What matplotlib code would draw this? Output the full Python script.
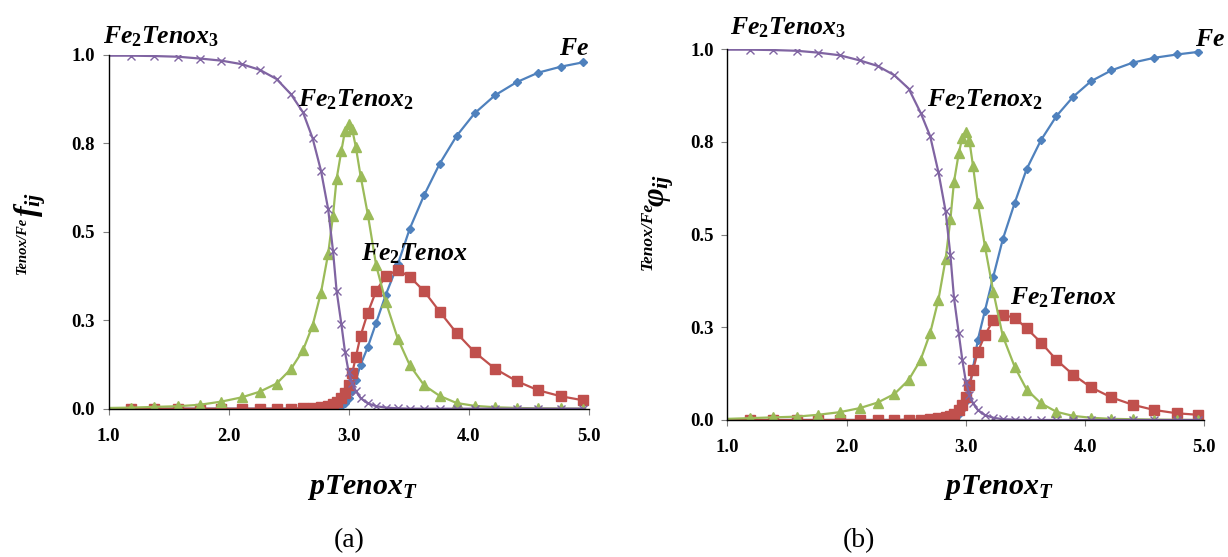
import numpy as np
import matplotlib
matplotlib.use('Agg')
import matplotlib.pyplot as plt

plt.rcParams['font.family'] = ['Liberation Serif', 'DejaVu Serif']
plt.rcParams['mathtext.fontset'] = 'custom'
plt.rcParams['mathtext.it'] = 'Liberation Serif:italic:bold'
plt.rcParams['mathtext.rm'] = 'Liberation Serif:bold'
plt.rcParams['mathtext.bf'] = 'Liberation Serif:italic:bold'

# pTenox_T values (same for both panels)
ptenox = [1.00, 1.19, 1.38, 1.58, 1.76, 1.94, 2.11, 2.26, 2.40, 2.52,
          2.62, 2.70, 2.77, 2.83, 2.87, 2.90, 2.94, 2.97, 3.00, 3.03,
          3.06, 3.10, 3.16, 3.23, 3.31, 3.41, 3.51, 3.63, 3.76, 3.90,
          4.05, 4.22, 4.40, 4.58, 4.77, 4.95]

# (a) fraction f_ij
a_fe = [0, 0, 0, 0, 0, 0, 0, 0, 0, 0,
        0, 0, 0, 0, 0.001, 0.003, 0.008, 0.016, 0.030, 0.050,
        0.080, 0.124, 0.174, 0.243, 0.322, 0.408, 0.509, 0.604, 0.693, 0.771,
        0.835, 0.886, 0.923, 0.950, 0.967, 0.979]
a_fe2tenox = [0, 0, 0, 0, 0, 0, 0, 0, 0, 0,
              0.001, 0.002, 0.004, 0.008, 0.013, 0.020, 0.030, 0.045, 0.067, 0.100,
              0.145, 0.206, 0.271, 0.333, 0.375, 0.392, 0.373, 0.332, 0.274, 0.214,
              0.160, 0.113, 0.078, 0.052, 0.035, 0.024]
a_fe2tenox2 = [0.002, 0.003, 0.005, 0.007, 0.011, 0.020, 0.032, 0.048, 0.071, 0.112,
               0.165, 0.235, 0.328, 0.438, 0.545, 0.649, 0.729, 0.785, 0.805, 0.790,
               0.741, 0.658, 0.550, 0.405, 0.302, 0.198, 0.123, 0.066, 0.036, 0.016,
               0.008, 0.004, 0.002, 0.001, 0.0005, 0.0]
a_fe2tenox3 = [0.998, 0.998, 0.997, 0.995, 0.990, 0.984, 0.974, 0.958, 0.932, 0.889,
               0.838, 0.765, 0.673, 0.564, 0.447, 0.334, 0.239, 0.161, 0.105, 0.072,
               0.050, 0.030, 0.015, 0.007, 0.003, 0.001, 0, 0, 0, 0,
               0, 0, 0, 0, 0, 0]

# (b) fraction phi_ij
b_fe = [0, 0, 0, 0, 0, 0, 0, 0, 0, 0,
        0, 0, 0, 0.001, 0.003, 0.007, 0.015, 0.030, 0.050, 0.085,
        0.140, 0.216, 0.295, 0.387, 0.488, 0.586, 0.677, 0.755, 0.820, 0.872,
        0.914, 0.943, 0.964, 0.977, 0.986, 0.993]
b_fe2tenox = [0, 0, 0, 0, 0, 0, 0, 0, 0, 0.001,
              0.001, 0.003, 0.005, 0.007, 0.011, 0.016, 0.027, 0.040, 0.061, 0.094,
              0.135, 0.184, 0.229, 0.270, 0.283, 0.276, 0.247, 0.209, 0.162, 0.122,
              0.088, 0.061, 0.041, 0.027, 0.018, 0.014]
b_fe2tenox2 = [0.003, 0.005, 0.007, 0.009, 0.014, 0.021, 0.032, 0.047, 0.070, 0.108,
               0.162, 0.234, 0.325, 0.434, 0.541, 0.642, 0.719, 0.762, 0.778, 0.752,
               0.685, 0.586, 0.468, 0.346, 0.226, 0.143, 0.082, 0.045, 0.022, 0.011,
               0.006, 0.003, 0.002, 0.001, 0.0005, 0.0]
b_fe2tenox3 = [0.999, 0.999, 0.998, 0.996, 0.991, 0.984, 0.970, 0.955, 0.930, 0.894,
               0.829, 0.766, 0.668, 0.563, 0.445, 0.330, 0.234, 0.162, 0.103, 0.068,
               0.045, 0.027, 0.013, 0.006, 0.002, 0.001, 0, 0, 0, 0,
               0, 0, 0, 0, 0, 0]

yticks = [0, 0.25, 0.5, 0.75, 1.0]
ytick_labels = ['0.0', '0.3', '0.5', '0.8', '1.0']
xticks = [1, 2, 3, 4, 5]
xtick_labels = ['1.0', '2.0', '3.0', '4.0', '5.0']

c_blue = '#4F81BD'
c_red = '#C0504D'
c_green = '#9BBB59'
c_purple = '#8064A2'

fig = plt.figure(figsize=(12.28, 5.57), dpi=100)
ax1 = fig.add_axes([0.0884, 0.2663, 0.3909, 0.6350])
ax2 = fig.add_axes([0.5924, 0.2460, 0.3883, 0.6655])

mk = range(1, len(ptenox))


def draw(ax, fe, fe1, fe2, fe3):
    ax.plot(ptenox, fe, color=c_blue, lw=1.6, marker='D', ms=4.5, markevery=mk)
    ax.plot(ptenox, fe1, color=c_red, lw=1.6, marker='s', ms=6.8, markevery=mk)
    ax.plot(ptenox, fe2, color=c_green, lw=1.6, marker='^', ms=6.5, markevery=mk)
    ax.plot(ptenox, fe3, color=c_purple, lw=1.6, marker='x', ms=6, mew=1.0,
            markevery=mk)
    ax.set_xlim(1, 5)
    ax.set_ylim(0, 1)
    ax.set_xticks(xticks)
    ax.set_xticklabels(xtick_labels)
    ax.set_yticks(yticks)
    ax.set_yticklabels(ytick_labels)
    for s in ['top', 'right']:
        ax.spines[s].set_visible(False)
    ax.spines['left'].set_linewidth(1.0)
    ax.spines['bottom'].set_linewidth(1.0)
    ax.tick_params(axis='both', length=4, width=0.8, color='#808080',
                   labelsize=13.5)
    ax.tick_params(axis='x', pad=10)
    ax.tick_params(axis='y', pad=6)
    for lab in ax.get_xticklabels() + ax.get_yticklabels():
        lab.set_fontweight('bold')


draw(ax1, a_fe, a_fe2tenox, a_fe2tenox2, a_fe2tenox3)
draw(ax2, b_fe, b_fe2tenox, b_fe2tenox2, b_fe2tenox3)

lbl = dict(fontsize=18.5, ha='left', va='baseline', clip_on=False)
ax1.text(0.952, 1.033, r'$Fe_2Tenox_3$', **lbl)
ax1.text(2.58, 0.856, r'$Fe_2Tenox_2$', **lbl)
ax1.text(3.10, 0.420, r'$Fe_2Tenox$', **lbl)
ax1.text(4.75, 1.000, r'$Fe$', **lbl)

ax2.text(1.02, 1.039, r'$Fe_2Tenox_3$', **lbl)
ax2.text(2.675, 0.845, r'$Fe_2Tenox_2$', **lbl)
ax2.text(3.374, 0.313, r'$Fe_2Tenox$', **lbl)
ax2.text(4.92, 1.010, r'$Fe$', **lbl)

W, H = 1228.0, 557.0


def ftext(x, y, s, **kw):
    fig.text(x / W, 1 - y / H, s, ha='center', va='center', **kw)


# y labels (prefix small, symbol large)
ftext(22.5, 245, 'Tenox/Fe', rotation=90, fontsize=10.5, style='italic',
      fontweight='bold')
ftext(30, 204, r'$f_{ij}$', rotation=90, fontsize=23)
ftext(647.5, 236, 'Tenox/Fe', rotation=90, fontsize=12.5, style='italic',
      fontweight='bold')
ftext(661, 190, r'$\varphi_{ij}$', rotation=90, fontsize=23)

# x labels
ftext(362, 488, r'$pTenox_T$', fontsize=21.5)
ftext(998, 488, r'$pTenox_T$', fontsize=21.5)

ftext(349, 541, '(a)', fontsize=20)
ftext(859, 541, '(b)', fontsize=20)

fig.savefig('out.png', dpi=100)
